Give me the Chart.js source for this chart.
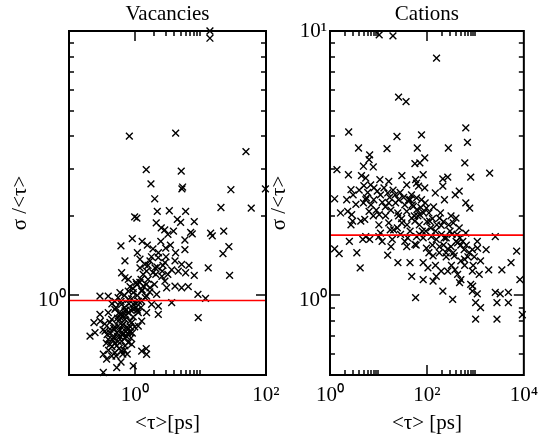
<!DOCTYPE html>
<html><head><meta charset="utf-8">
<script src="https://cdn.jsdelivr.net/npm/chart.js@4"></script>
<style>
html,body{margin:0;padding:0;background:#fff;}
#wrap{position:relative;width:548px;height:439px;overflow:hidden;}
#cA{position:absolute;left:0;top:0;}
#cB{position:absolute;left:270px;top:0;}
</style></head><body>
<div id="wrap">
<canvas id="cA" width="290" height="439"></canvas>
<canvas id="cB" width="278" height="439"></canvas>
</div>
<script>
// ---- data: [<tau> (ps), sigma/<tau>] ----
const vacPoints = [
 [14.0,10.0],[14.0,9.39],[0.83,4.0],[4.21,4.11],[49.5,3.50],[1.50,2.99],[5.12,2.95],[1.77,2.64],[5.37,2.57],[5.24,2.53],
 [29.2,2.51],[98,2.53],[2.02,2.32],[2.21,2.08],[3.37,2.09],[5.97,2.08],[20.6,2.15],[59.6,2.14],[1.0,1.98],[1.08,1.96],
 [2.13,1.88],[4.46,1.94],[5.01,1.89],[8.08,1.90],[2.54,1.80],[2.87,1.77],[3.21,1.70],[7.12,1.73],[7.53,1.71],[14.35,1.72],
 [15.2,1.68],[22.7,1.75],[0.92,1.64],[0.618,1.54],[1.56,1.55],[2.97,1.51],[5.82,1.62],[5.82,1.49],[27.2,1.53],[22.1,1.44],
 [0.711,1.35],[1.204,1.37],[1.43,1.31],[1.71,1.35],[2.29,1.39],[2.89,1.33],[4.11,1.35],[5.19,1.31],
 [1.204,1.27],[1.52,1.235],[2.04,1.27],[2.63,1.235],[3.66,1.25],[4.62,1.235],
 [0.633,1.218],[0.711,1.166],[0.80,1.15],[1.073,1.10],[1.35,1.084],[1.71,1.069],[2.89,1.132],[3.07,1.069],[4.11,1.084],[5.19,1.069],
 [0.296,0.994],[0.396,0.994],[0.597,1.024],[0.80,1.038],[0.952,1.024],[1.28,1.038],[1.52,0.994],[2.16,1.009],[3.66,0.939],
 [0.80,0.966],[1.0,0.939],[1.28,0.952],[1.81,0.925],[2.29,0.911],[0.633,0.925],
 [0.296,0.848],[0.396,0.861],[0.50,0.885],[0.711,0.873],[0.952,0.885],[1.134,0.861],[1.52,0.861],[2.29,0.848],
 [0.447,0.812],[0.563,0.80],[0.711,0.812],[0.90,0.789],[1.28,0.80],
 [0.563,0.766],[0.755,0.755],[1.134,0.766],
 [0.209,0.702],[0.249,0.723],[0.353,0.733],[0.421,0.745],[0.533,0.723],[0.67,0.712],[0.848,0.723],
 [0.396,0.682],[0.473,0.692],[0.633,0.672],[0.80,0.663],
 [0.421,0.653],[0.533,0.644],[0.711,0.644],[0.90,0.653],
 [0.333,0.599],[0.374,0.574],[0.447,0.590],[0.50,0.608],[0.633,0.616],[1.28,0.616],[1.52,0.599],
 [0.333,0.511],[0.533,0.533],[0.952,0.541],
 [6.7,1.30],[13.2,1.27],[5.97,1.218],[8.08,1.19],[27.9,1.19],[6.55,1.08],[9.19,1.009],[12.0,0.974],[9.29,0.824],[0.240,0.789],[1.50,0.629],
 [0.45,0.93],[0.52,0.9],[0.58,0.86],[0.62,0.82],[0.68,0.78],[0.74,0.84],[0.82,0.93],[0.9,0.97],[0.95,1.06],[1.1,1.0],
 [1.2,1.12],[1.35,1.2],[1.6,1.15],[1.9,1.22],[2.2,1.28],[0.5,0.76],[0.55,0.7],[0.6,0.74],[0.65,0.77],[0.72,0.69],
 [0.78,0.72],[0.85,0.8],[0.95,0.83],[1.05,0.9],[1.15,0.95],[0.42,0.79],[0.46,0.68],[0.38,0.71],[0.35,0.78],[0.4,0.62],
 [0.58,0.63],[0.66,0.6],[0.88,0.69],[1.0,0.76],[0.7,0.9],[0.62,0.95],[1.3,1.05],[1.45,0.98],[1.7,1.03],[2.0,1.1],
 [2.6,1.18],[3.0,1.4],[2.3,1.45],[1.9,1.5],[2.5,1.6],[3.5,1.55],[4.2,1.45],[1.3,1.6],[3.9,1.75],[1.1,1.45],
 [0.3,0.8],[0.33,0.74],[0.37,0.66],[0.43,0.72],[0.48,0.75],[0.5,0.66],[0.56,0.67],[0.6,0.7],[0.64,0.71],[0.69,0.74],
 [0.75,0.7],[0.8,0.75],[0.86,0.76],[0.92,0.72],[0.55,0.82],[0.6,0.85],[0.66,0.84],[0.74,0.88],[0.8,0.86],[0.87,0.88],
 [0.98,0.92],[1.1,0.88],[1.25,0.9],[0.5,0.95],[0.56,0.98],[0.7,1.0],[0.85,1.08],[1.05,1.12],[1.25,1.15],[1.5,1.1],
 [0.45,0.64],[0.7,0.62],[0.77,0.6],[0.62,0.56],[0.52,0.59],[1.6,1.3],[1.8,1.4],[2.1,1.2],[2.7,1.3],[3.2,1.2]
];
const catPoints = [
 [10.35,9.66],[19.9,9.58],[158,7.89],[26.0,5.62],[37.1,5.41],[2.43,4.15],[24.1,3.99],[77.3,4.05],[634,4.30],[686,3.79],
 [3.88,3.61],[15.0,3.59],[63.3,3.61],[277,3.61],[6.58,3.40],[6.40,3.26],[4.90,3.08],[7.82,3.06],[56.5,3.15],[71.4,3.17],
 [90.2,3.31],[605,3.17],[1.39,2.99],[2.40,2.86],[4.46,2.84],[5.46,2.78],[30.4,2.84],[83.7,2.86],[58.4,2.74],[61.2,2.66],
 [213,2.76],[269,2.80],[801,2.80],[1971,2.90],[2.71,2.51],[1.245,2.32],[2.21,2.30],[6.9,2.62],[8.08,2.55],[10.7,2.74],
 [16.3,2.70],[15.5,2.44],[9.43,2.48],[5.64,2.34],[38.3,2.62],[22.2,2.40],[26.0,2.30],[16.3,2.24],[13.9,2.16],[61.2,2.34],
 [77.3,2.30],[90.2,2.55],[149,2.44],[213,2.59],[230,2.30],[384,2.40],[464,2.48],[634,2.24],[764,2.14],[1.65,2.05],
 [2.32,2.08],[2.80,2.02],[2.71,1.85],[4.32,1.91],[5.21,1.94],[4.90,2.24],[3.42,2.21],[6.40,2.08],[7.82,2.00],[10.2,1.85],
 [16.3,1.88],[20.6,1.77],[30.4,1.88],[48.5,1.96],[56.5,1.91],[71.4,2.02],[97.7,2.14],[137,2.16],[52.5,2.17],[38.3,2.08],
 [26.0,2.00],[114,1.91],[182,1.96],[197,1.84],[314,2.00],[350,1.88],[397,1.96],[464,1.80],[1.245,1.50],[1.545,1.44],
 [2.51,1.60],[3.58,1.45],[4.2,1.27],[5.46,1.67],[6.58,1.63],[10.2,1.67],[11.9,1.60],[11.0,1.72],[17.5,1.77],[15.5,1.42],
 [18.1,1.53],[25.2,1.33],[38.3,1.53],[44.8,1.33],[56.5,1.56],[61.2,1.67],[83.7,1.65],[97.7,1.51],[83.7,1.33],[105,1.27],
 [134,1.41],[123,1.67],[156,1.63],[182,1.53],[230,1.65],[249,1.45],[314,1.53],[367,1.41],[430,1.58],[502,1.35],
 [586,1.49],[634,1.72],[867,1.49],[1095,1.60],[1667,1.49],[1883,1.25],[1278,1.35],[867,1.235],[502,1.148],[430,1.20],
 [801,1.10],[156,1.18],[197,1.235],[269,1.235],[83.7,1.148],[134,1.132],[48.5,1.18],[213,1.038],[340,0.966],[58.4,0.98],
 [2576,1.67],[3521,1.25],[5440,1.33],[7100,1.47],[8290,1.148],[2576,1.026],[2788,0.939],[3254,1.014],[4795,1.026],[4795,0.939],
 [867,1.038],[1095,1.014],[1012,0.939],[1278,0.899],[1012,0.813],[2788,0.813],[9300,0.845],
 [2.93,1.91],[22.6,2.24],[42.1,2.30],[67.2,2.59],[92,2.24],[28.6,1.70],[38.9,1.85],[4.76,1.63],[19.3,1.63],[10.35,2.02],
 [24.5,1.80],[62.2,2.11],[1110,1.51],[597,1.37],[472,1.117],[879,1.084],
 [5.5,2.3],[7,2.2],[9,2.1],[12,2.25],[14,2.0],[18,2.1],[25,2.05],[30,1.95],[35,2.2],[45,2.3],
 [55,2.0],[70,1.85],[80,1.75],[100,1.9],[120,1.8],[150,1.75],[200,1.7],[250,1.65],[300,1.75],[400,1.6],
 [500,1.55],[350,1.45],[250,1.4],[180,1.45],[600,1.3],[700,1.4],[150,1.3],[110,1.45],[60,1.55],[40,1.65],
 [3,2.4],[4,2.5],[5,2.6],[6,2.45],[8,2.3],[11,2.4],[13,2.55],[17,2.35],[20,2.5],[28,2.45],
 [33,2.35],[48,2.4],[50,2.2],[65,2.0],[75,2.15],[85,2.05],[110,2.05],[130,1.95],[160,1.85],[190,2.05],
 [220,1.9],[280,1.85],[330,1.7],[420,1.7],[480,1.65],[550,1.6],[650,1.55],[750,1.45],[900,1.3],[950,1.4],
 [1200,1.2],[320,1.3],[380,1.25],[270,1.5],[220,1.55],[130,1.55],[95,1.75],[70,1.7],[45,1.75],[35,1.6]
];
// mean sigma/<tau> (red line)
const vacMean = 0.957;
const catMean = 1.69;
// axis ranges
const vacXRange = [0.1, 100];
const catXRange = [1, 10000];
const yRange = [0.5, 10];
// labelled ticks
const vacXLabels = [1, 100];
const vacYLabels = [1];
const catXLabels = [1, 100, 10000];
const catYLabels = [1, 10];
// tick marks
const vacXMajor = [1];
const vacXMinor = [2,3,4,5,6,7,8,9,10];
const vacYMajor = [1];
const vacYMinor = [2,3,4,5,6,7,8,9];
const catXMajor = [100];
const catXMinor = [2,3,4,5,6,7,8,9,10,200,300,400,500,600,700,800,900,1000];
const catYMajor = [1];
const catYMinor = [0.6,0.7,0.8,0.9,2,3,4,5,6,7,8,9];

Chart.defaults.font.family = "'Liberation Serif', 'Times New Roman', serif";
Chart.defaults.color = '#000';

const SUP = '⁰¹²³⁴⁵⁶⁷⁸⁹';
function powLabel(v) {
  const e = Math.round(Math.log10(v));
  return '10' + (e < 0 ? '⁻' : '') + String(Math.abs(e)).split('').map(d => SUP[+d]).join('');
}

function framePlugin(xMajor, xMinor, yMajor, yMinor) {
  return {
    id: 'frameTicks',
    afterDatasetsDraw(chart) {
      const {ctx, chartArea: {left, right, top, bottom}} = chart;
      const xs = chart.scales.x, ys = chart.scales.y;
      ctx.save();
      ctx.strokeStyle = '#000';
      ctx.lineWidth = 1.5;
      const seg = (x1, y1, x2, y2) => { ctx.beginPath(); ctx.moveTo(x1, y1); ctx.lineTo(x2, y2); ctx.stroke(); };
      const xt = (vals, len) => vals.forEach(v => {
        const p = Math.round(xs.getPixelForValue(v));
        seg(p, bottom, p, bottom - len); seg(p, top, p, top + len);
      });
      const yt = (vals, len) => vals.forEach(v => {
        const p = Math.round(ys.getPixelForValue(v));
        seg(left, p, left + len, p); seg(right, p, right - len, p);
      });
      xt(xMajor, 10); xt(xMinor, 5); yt(yMajor, 10); yt(yMinor, 5);
      ctx.lineWidth = 2;
      ctx.strokeRect(left, top, right - left, bottom - top);
      ctx.restore();
    }
  };
}

const F = {size: 21, lineHeight: 1};

function makePanel(id, o) {
  new Chart(document.getElementById(id), {
    type: 'scatter',
    data: {
      datasets: [
        { data: o.points.map(p => ({x: p[0], y: p[1]})), pointStyle: 'crossRot', pointRadius: 4.8, pointHoverRadius: 4.8,
          borderColor: '#000', backgroundColor: '#000', borderWidth: 1.4, clip: false, order: 2 },
        { type: 'line', data: [{x: o.xRange[0], y: o.mean}, {x: o.xRange[1], y: o.mean}],
          borderColor: '#ff0000', borderWidth: 1.6, pointRadius: 0, order: 1 }
      ]
    },
    options: {
      responsive: false, animation: false, devicePixelRatio: 1,
      layout: {padding: 0},
      plugins: {legend: {display: false}, tooltip: {enabled: false}},
      scales: {
        x: { type: 'logarithmic', position: 'bottom', min: o.xRange[0], max: o.xRange[1],
             afterBuildTicks: s => { s.ticks = o.xLabels.map(v => ({value: v})); },
             ticks: {callback: v => powLabel(v), font: F, padding: 10, autoSkip: false, maxRotation: 0, minRotation: 0},
             grid: {display: false, drawTicks: false}, border: {display: false},
             title: {display: true, text: o.xTitle, font: F, padding: {top: 0, bottom: 5}},
             afterFit: s => { s.height = 64; } },
        xt: { type: 'logarithmic', position: 'top', min: o.xRange[0], max: o.xRange[1],
              ticks: {display: false}, grid: {display: false, drawTicks: false}, border: {display: false},
              title: {display: true, text: o.title, font: F, padding: {top: 3.5, bottom: 0}},
              afterFit: s => { s.height = 31; } },
        y: { type: 'logarithmic', position: 'left', min: yRange[0], max: yRange[1],
             afterBuildTicks: s => { s.ticks = o.yLabels.map(v => ({value: v})); },
             ticks: {callback: v => (v === 1 ? ['', powLabel(v)] : powLabel(v)), font: {size: 21, lineHeight: '10px'}, padding: 3, autoSkip: false},
             grid: {display: false, drawTicks: false}, border: {display: false},
             title: {display: true, text: 'σ /<τ>', font: F, padding: {top: o.yTitlePad, bottom: 0}},
             afterFit: s => { s.width = o.leftW; } },
        yr: { type: 'logarithmic', position: 'right', min: yRange[0], max: yRange[1],
              ticks: {display: false}, grid: {display: false, drawTicks: false}, border: {display: false},
              afterFit: s => { s.width = o.rightW; } }
      }
    },
    plugins: [framePlugin(o.xMajor, o.xMinor, o.yMajor, o.yMinor)]
  });
}

makePanel('cA', {points: vacPoints, mean: vacMean, xRange: vacXRange, xLabels: vacXLabels, yLabels: vacYLabels,
  title: 'Vacancies', xTitle: '<τ>[ps]', yTitlePad: 9.5, leftW: 69, rightW: 24,
  xMajor: vacXMajor, xMinor: vacXMinor, yMajor: vacYMajor, yMinor: vacYMinor});
makePanel('cB', {points: catPoints, mean: catMean, xRange: catXRange, xLabels: catXLabels, yLabels: catYLabels,
  title: 'Cations', xTitle: '<τ> [ps]', yTitlePad: -1.5, leftW: 60, rightW: 21,
  xMajor: catXMajor, xMinor: catXMinor, yMajor: catYMajor, yMinor: catYMinor});
</script>
</body></html>
